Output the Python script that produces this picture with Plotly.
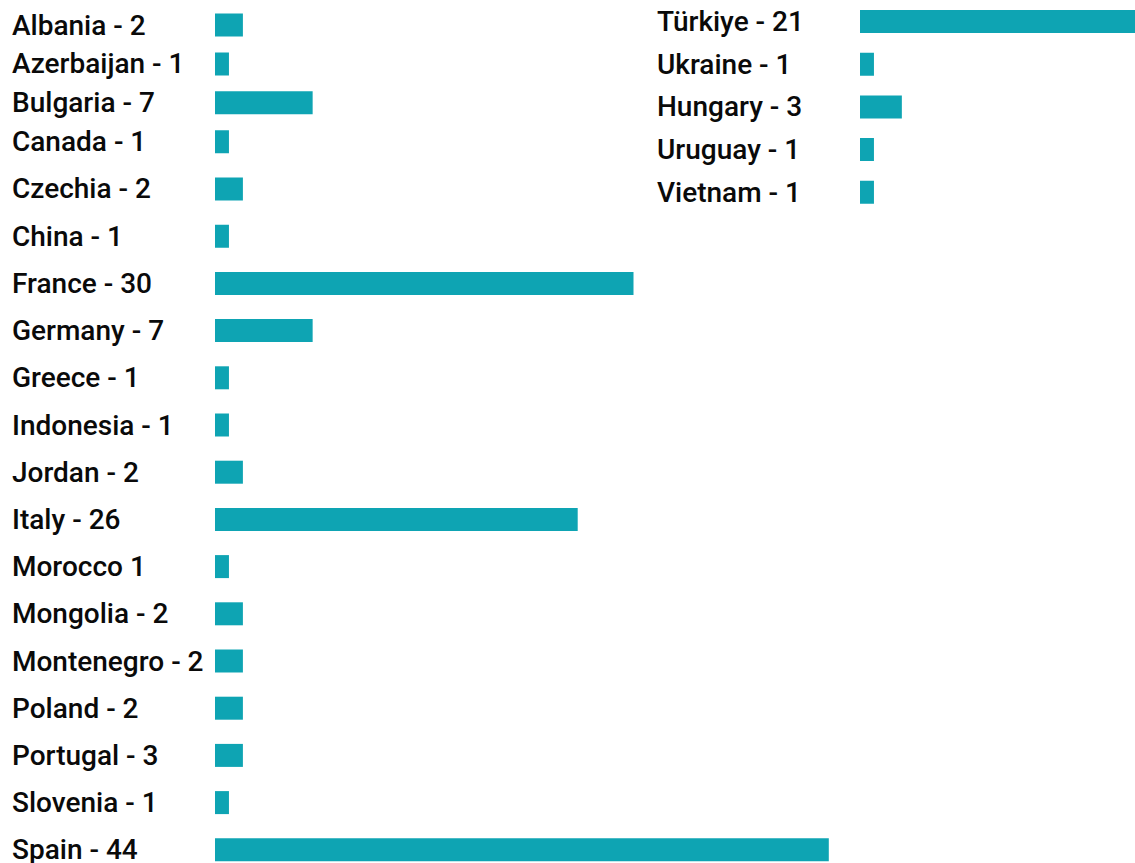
import plotly.graph_objects as go

# ---------------- data ----------------
left_top_countries = ["Albania", "Azerbaijan", "Bulgaria", "Canada"]
left_top_labels = ["Albania - 2", "Azerbaijan - 1", "Bulgaria - 7", "Canada - 1"]
left_top_values = [2, 1, 7, 1]

left_bottom_countries = ["Czechia", "China", "France", "Germany", "Greece", "Indonesia",
                         "Jordan", "Italy", "Morocco", "Mongolia", "Montenegro", "Poland",
                         "Portugal", "Slovenia", "Spain"]
left_bottom_labels = ["Czechia - 2", "China - 1", "France - 30", "Germany - 7", "Greece - 1",
                      "Indonesia - 1", "Jordan - 2", "Italy - 26", "Morocco 1", "Mongolia - 2",
                      "Montenegro - 2", "Poland - 2", "Portugal - 3", "Slovenia - 1", "Spain - 44"]
left_bottom_values = [2, 1, 30, 7, 1, 1, 2, 26, 1, 2, 2, 2, 2, 1, 44]

right_countries = ["Türkiye", "Ukraine", "Hungary", "Uruguay", "Vietnam"]
right_labels = ["Türkiye - 21", "Ukraine - 1", "Hungary - 3", "Uruguay - 1", "Vietnam - 1"]
right_values = [21, 1, 3, 1, 1]

# ---------------- layout constants ----------------
W, H = 1135, 863
BAR_COLOR = "#0EA4B3"
PX_PER_UNIT = 13.95
BAR_PX = 23
FONT = dict(family="Roboto, Arial, sans-serif", size=28, color="#0a0a0a", weight=500)


def y_setup(n, first_center, spacing, top_px=None, bottom_px=None):
    half = spacing / 2
    top = first_center - half if top_px is None else top_px
    bottom = first_center + (n - 1) * spacing + half if bottom_px is None else bottom_px
    r_top = (top - first_center) / spacing
    r_bot = (bottom - first_center) / spacing
    return [1 - bottom / H, 1 - top / H], [r_bot, r_top], BAR_PX / spacing


groups = [
    dict(c=left_top_countries, l=left_top_labels, v=left_top_values, xa="x", ya="y",
         ysetup=y_setup(4, 25, 38.9), xstart=215, xend=860, lx=10),
    dict(c=left_bottom_countries, l=left_bottom_labels, v=left_bottom_values, xa="x2", ya="y2",
         ysetup=y_setup(15, 189, 47.2, bottom_px=H), xstart=215, xend=860, lx=10),
    dict(c=right_countries, l=right_labels, v=right_values, xa="x3", ya="y3",
         ysetup=y_setup(5, 21.5, 42.7, top_px=0), xstart=860, xend=W, lx=655),
]

fig = go.Figure()
annotations = []
layout_axes = {}
for i, g in enumerate(groups):
    dom, rng, width = g["ysetup"]
    fig.add_trace(go.Bar(
        x=g["v"], y=g["c"], orientation="h", xaxis=g["xa"], yaxis=g["ya"],
        marker=dict(color=BAR_COLOR, line=dict(width=0)), width=width,
        hoverinfo="skip", showlegend=False,
    ))
    xname = "xaxis" if i == 0 else f"xaxis{i+1}"
    yname = "yaxis" if i == 0 else f"yaxis{i+1}"
    layout_axes[xname] = dict(domain=[g["xstart"] / W, g["xend"] / W],
                              range=[0, (g["xend"] - g["xstart"]) / PX_PER_UNIT],
                              visible=False, fixedrange=True,
                              anchor=g["ya"])
    layout_axes[yname] = dict(domain=dom, range=rng, type="category",
                              categoryorder="array", categoryarray=g["c"],
                              visible=False, fixedrange=True, anchor=g["xa"])
    for c, lab in zip(g["c"], g["l"]):
        annotations.append(dict(
            x=g["lx"] / W, xref="paper", xanchor="left",
            y=c, yref=g["ya"], yanchor="middle", yshift=0,
            text=lab, showarrow=False, font=FONT,
        ))

fig.update_layout(
    width=W, height=H,
    margin=dict(l=0, r=0, t=0, b=0),
    paper_bgcolor="white", plot_bgcolor="white",
    annotations=annotations,
    **layout_axes,
)

fig.write_html(
    "out.html",
    config={"displayModeBar": False},
    post_script="document.body.style.margin='0';document.body.style.overflow='hidden';",
)
